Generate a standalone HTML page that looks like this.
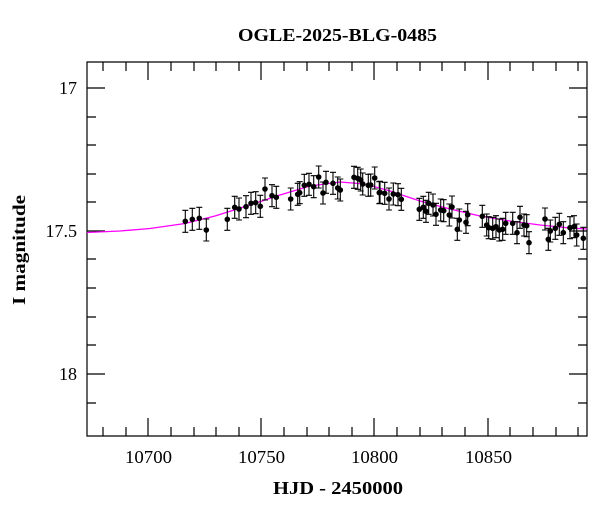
<!DOCTYPE html>
<html><head><meta charset="utf-8"><style>body{margin:0;background:#fff}svg{display:block}</style></head><body>
<svg width="600" height="512" xmlns="http://www.w3.org/2000/svg" font-family="Liberation Serif, serif">
<defs>
<g id="m"><path d="M0,-11V11M-3,-11h6M-3,11h6" stroke="#000" stroke-width="1.1" fill="none"/><circle r="2.8" fill="#000"/></g>
</defs>
<rect width="600" height="512" fill="#fff"/>
<text x="238" y="41" font-size="18" font-weight="bold" textLength="199" lengthAdjust="spacingAndGlyphs">OGLE-2025-BLG-0485</text>
<text x="273" y="494" font-size="18" font-weight="bold" textLength="130" lengthAdjust="spacingAndGlyphs">HJD - 2450000</text>
<text transform="translate(25,305) rotate(-90)" font-size="18" font-weight="bold" textLength="110" lengthAdjust="spacingAndGlyphs">I magnitude</text>
<g font-size="18">
<text x="125" y="463" textLength="47" lengthAdjust="spacingAndGlyphs">10700</text>
<text x="238" y="463" textLength="47" lengthAdjust="spacingAndGlyphs">10750</text>
<text x="351" y="463" textLength="47" lengthAdjust="spacingAndGlyphs">10800</text>
<text x="465" y="463" textLength="47" lengthAdjust="spacingAndGlyphs">10850</text>
</g>
<g font-size="18" text-anchor="end">
<text x="77" y="94">17</text><text x="77" y="237">17.5</text><text x="77" y="380">18</text>
</g>
<g stroke="#000" stroke-width="1.2">
<path d="M87,62V436H587V62Z" fill="none"/>
<path d="M103,436v-9M103,62v9M126,436v-9M126,62v9M148,436v-18M148,62v18M171,436v-9M171,62v9M194,436v-9M194,62v9M216,436v-9M216,62v9M239,436v-9M239,62v9M261,436v-18M261,62v18M284,436v-9M284,62v9M307,436v-9M307,62v9M329,436v-9M329,62v9M352,436v-9M352,62v9M374,436v-18M374,62v18M397,436v-9M397,62v9M420,436v-9M420,62v9M442,436v-9M442,62v9M465,436v-9M465,62v9M488,436v-18M488,62v18M510,436v-9M510,62v9M533,436v-9M533,62v9M556,436v-9M556,62v9M578,436v-9M578,62v9"/>
<path d="M87,88h18M587,88h-18M87,145h9M587,145h-9M87,202h9M587,202h-9M87,259h9M587,259h-9M87,231h18M587,231h-18M87,117h9M587,117h-9M87,174h9M587,174h-9M87,288h9M587,288h-9M87,317h9M587,317h-9M87,345h9M587,345h-9M87,374h18M587,374h-18M87,403h9M587,403h-9"/>
</g>
<polyline fill="none" stroke="#f0f" stroke-width="1.3" points="87,232.5 120,231 150,228.5 185,223.5 215,216 250,205 280,195 310,186 340,182 365,184 390,191 420,201 450,209 480,216 510,221 540,225 570,228 587,229"/>
<use href="#m" x="185.3" y="221.3"/><use href="#m" x="192.3" y="219.3"/><use href="#m" x="199.3" y="218.3"/><use href="#m" x="206.3" y="230"/>
<use href="#m" x="227.3" y="219.3"/><use href="#m" x="234.7" y="207.3"/><use href="#m" x="239" y="209"/><use href="#m" x="246" y="206.7"/>
<use href="#m" x="251" y="203.3"/><use href="#m" x="255.7" y="202.7"/><use href="#m" x="260.3" y="206.3"/><use href="#m" x="265" y="189"/>
<use href="#m" x="272" y="195.7"/><use href="#m" x="276.3" y="197.3"/><use href="#m" x="290.7" y="199"/><use href="#m" x="297.7" y="194.3"/>
<use href="#m" x="299.7" y="192.7"/><use href="#m" x="304.3" y="185.3"/><use href="#m" x="309" y="184.3"/><use href="#m" x="313.7" y="186.7"/>
<use href="#m" x="318.7" y="177"/><use href="#m" x="323" y="193"/><use href="#m" x="326" y="182.3"/><use href="#m" x="333" y="183.3"/>
<use href="#m" x="337.7" y="188"/><use href="#m" x="340.3" y="190"/><use href="#m" x="354" y="177.3"/><use href="#m" x="357.7" y="178.3"/>
<use href="#m" x="360.7" y="180"/><use href="#m" x="362.7" y="184"/><use href="#m" x="368.3" y="185.3"/><use href="#m" x="374.7" y="178"/>
<use href="#m" x="379.3" y="192.7"/><use href="#m" x="370.7" y="185"/><use href="#m" x="380" y="192.3"/><use href="#m" x="384.7" y="193.3"/>
<use href="#m" x="389" y="199"/><use href="#m" x="393.3" y="194"/><use href="#m" x="398" y="194.7"/><use href="#m" x="401.3" y="199.3"/>
<use href="#m" x="419.3" y="209.3"/><use href="#m" x="423.3" y="207.3"/><use href="#m" x="426" y="211.3"/><use href="#m" x="428.7" y="203.3"/>
<use href="#m" x="433" y="205"/><use href="#m" x="436" y="214.3"/><use href="#m" x="440.7" y="210"/><use href="#m" x="443.7" y="210.7"/>
<use href="#m" x="449.3" y="215"/><use href="#m" x="452" y="207"/><use href="#m" x="457.3" y="229.3"/><use href="#m" x="459.3" y="220"/>
<use href="#m" x="466" y="222.3"/><use href="#m" x="467.7" y="214.7"/><use href="#m" x="482.3" y="216.3"/><use href="#m" x="486.7" y="225"/>
<use href="#m" x="488.7" y="227.7"/><use href="#m" x="492.7" y="228.3"/><use href="#m" x="496" y="226.7"/><use href="#m" x="499.3" y="230"/>
<use href="#m" x="502.7" y="229.3"/><use href="#m" x="505.7" y="223.3"/><use href="#m" x="512.7" y="223.3"/><use href="#m" x="517" y="232.7"/>
<use href="#m" x="520" y="217.3"/><use href="#m" x="524" y="225"/><use href="#m" x="526.7" y="225.7"/><use href="#m" x="529" y="242.7"/>
<use href="#m" x="545" y="219"/><use href="#m" x="548.3" y="239.3"/><use href="#m" x="550.3" y="231"/><use href="#m" x="555.3" y="228.3"/>
<use href="#m" x="559.3" y="224.3"/><use href="#m" x="563.3" y="232.7"/><use href="#m" x="570" y="227.7"/><use href="#m" x="574" y="226.7"/>
<use href="#m" x="576.7" y="235"/><use href="#m" x="583.3" y="238.3"/>
</svg>
</body></html>
